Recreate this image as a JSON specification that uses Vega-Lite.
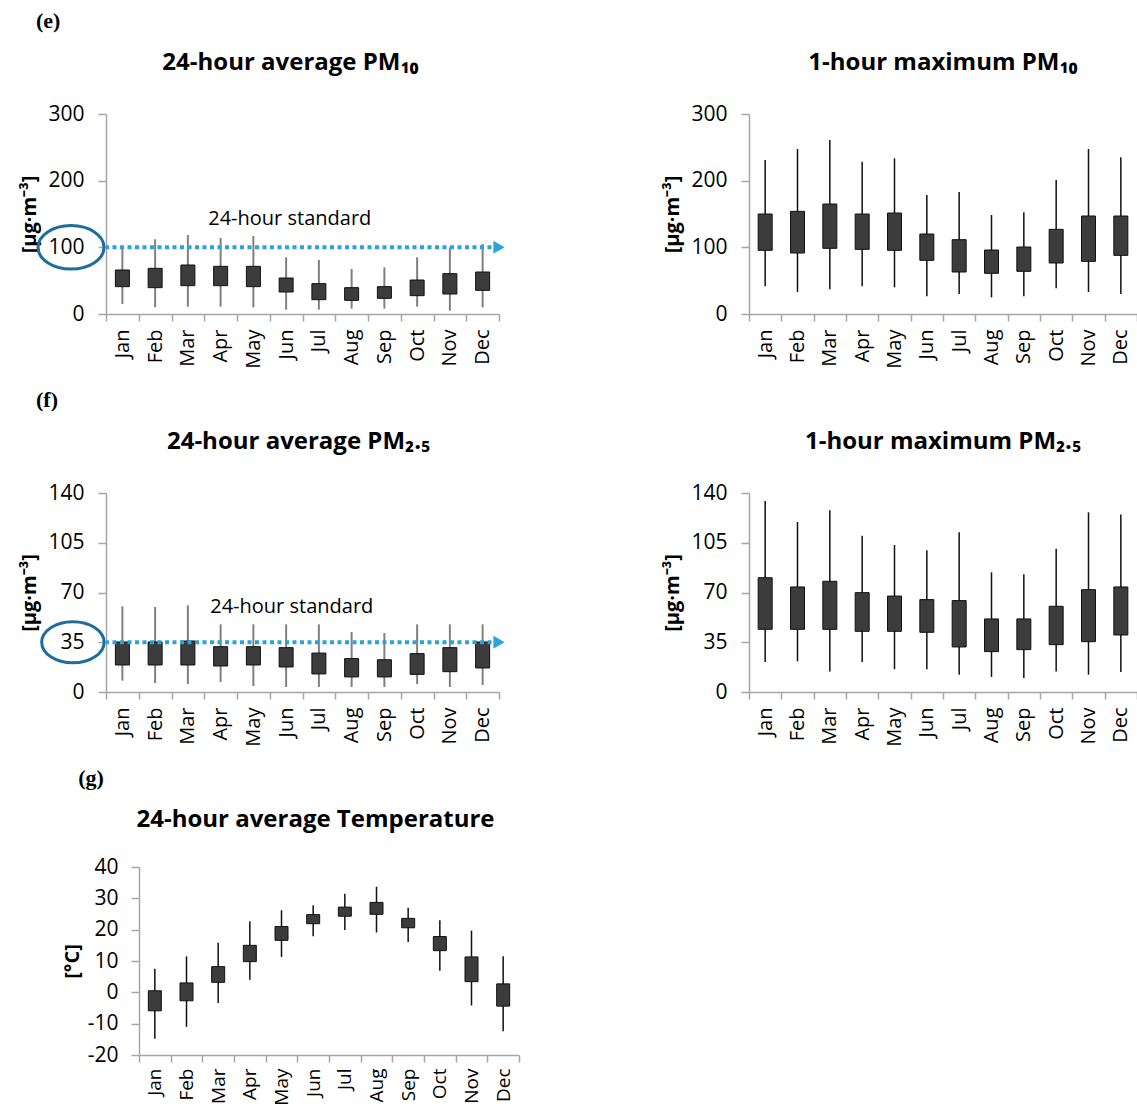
{
  "$schema": "https://vega.github.io/schema/vega-lite/v6.json",
  "padding": {"left": 19, "top": 10, "right": 0, "bottom": 0},
  "background": "white",
  "config": {
    "view": {"stroke": null},
    "font": "Open Sans",
    "axis": {"labelFont": "Open Sans", "labelFontSize": 20, "labelColor": "#000000", "domainColor": "#A6A6A6", "domainWidth": 1.5, "tickColor": "#A6A6A6", "tickWidth": 1.5, "grid": false, "titleFont": "Open Sans", "titleFontSize": 20, "titleFontWeight": "bold", "titleColor": "#000000", "labelOverlap": false},
    "axisY": {"labelFontSize": 21},
    "title": {"font": "Open Sans", "fontSize": 24, "fontWeight": "bold", "color": "#000000"}
  },
  "datasets": {
    "pm10_24h": [
      {"month": "Jan", "min": 15, "q1": 41, "q3": 66, "max": 100},
      {"month": "Feb", "min": 10, "q1": 39.5, "q3": 68.5, "max": 112},
      {"month": "Mar", "min": 11, "q1": 42.5, "q3": 73.5, "max": 118.5},
      {"month": "Apr", "min": 11, "q1": 42.5, "q3": 71.5, "max": 114},
      {"month": "May", "min": 10, "q1": 41, "q3": 71.5, "max": 117},
      {"month": "Jun", "min": 6.5, "q1": 33, "q3": 54, "max": 85},
      {"month": "Jul", "min": 6.5, "q1": 21.5, "q3": 45.5, "max": 81},
      {"month": "Aug", "min": 8, "q1": 20.5, "q3": 39.5, "max": 67.5},
      {"month": "Sep", "min": 8, "q1": 23.5, "q3": 41, "max": 70},
      {"month": "Oct", "min": 11, "q1": 27.5, "q3": 51, "max": 85},
      {"month": "Nov", "min": 5, "q1": 30, "q3": 60.5, "max": 100},
      {"month": "Dec", "min": 10, "q1": 35.5, "q3": 63, "max": 105}
    ],
    "pm10_1h": [
      {"month": "Jan", "min": 41.5, "q1": 95.5, "q3": 150, "max": 231},
      {"month": "Feb", "min": 33, "q1": 91.5, "q3": 154, "max": 247.5},
      {"month": "Mar", "min": 37, "q1": 98.5, "q3": 165, "max": 261},
      {"month": "Apr", "min": 41.5, "q1": 97, "q3": 150, "max": 228.5},
      {"month": "May", "min": 40, "q1": 95.5, "q3": 151.5, "max": 233.5},
      {"month": "Jun", "min": 26.5, "q1": 80.5, "q3": 120, "max": 178.5},
      {"month": "Jul", "min": 30, "q1": 63, "q3": 111.5, "max": 183},
      {"month": "Aug", "min": 25, "q1": 61, "q3": 96, "max": 148.5},
      {"month": "Sep", "min": 26.5, "q1": 64, "q3": 100.5, "max": 152.5},
      {"month": "Oct", "min": 38.5, "q1": 76.5, "q3": 127, "max": 201},
      {"month": "Nov", "min": 33, "q1": 79, "q3": 147, "max": 247.5},
      {"month": "Dec", "min": 30, "q1": 88, "q3": 147, "max": 235}
    ],
    "pm25_24h": [
      {"month": "Jan", "min": 8, "q1": 19, "q3": 35.2, "max": 60.3},
      {"month": "Feb", "min": 6.3, "q1": 19, "q3": 35.2, "max": 59.8},
      {"month": "Mar", "min": 5.6, "q1": 19, "q3": 35.9, "max": 61},
      {"month": "Apr", "min": 7, "q1": 18.3, "q3": 31.9, "max": 47.6},
      {"month": "May", "min": 4.2, "q1": 19, "q3": 31.9, "max": 47.6},
      {"month": "Jun", "min": 3.5, "q1": 17.6, "q3": 31.2, "max": 47.6},
      {"month": "Jul", "min": 3.5, "q1": 12.7, "q3": 27.4, "max": 47.6},
      {"month": "Aug", "min": 3.5, "q1": 10.6, "q3": 23.5, "max": 42.2},
      {"month": "Sep", "min": 3.5, "q1": 10.6, "q3": 22.7, "max": 41.5},
      {"month": "Oct", "min": 5.6, "q1": 12.4, "q3": 27, "max": 47.6},
      {"month": "Nov", "min": 3.5, "q1": 14.3, "q3": 31.2, "max": 47.6},
      {"month": "Dec", "min": 4.9, "q1": 16.9, "q3": 35.2, "max": 47.6}
    ],
    "pm25_1h": [
      {"month": "Jan", "min": 21.1, "q1": 44.1, "q3": 80.4, "max": 134.4},
      {"month": "Feb", "min": 21.6, "q1": 44.1, "q3": 73.9, "max": 119.6},
      {"month": "Mar", "min": 14.5, "q1": 44.1, "q3": 77.9, "max": 127.8},
      {"month": "Apr", "min": 21.1, "q1": 42.7, "q3": 69.9, "max": 110},
      {"month": "May", "min": 16, "q1": 42.7, "q3": 67.5, "max": 103.4},
      {"month": "Jun", "min": 16, "q1": 42, "q3": 65, "max": 99.7},
      {"month": "Jul", "min": 12.2, "q1": 31.7, "q3": 64.3, "max": 112.3},
      {"month": "Aug", "min": 10.6, "q1": 28.4, "q3": 51.4, "max": 84.2},
      {"month": "Sep", "min": 9.9, "q1": 29.8, "q3": 51.4, "max": 82.8},
      {"month": "Oct", "min": 14.5, "q1": 33.3, "q3": 60.3, "max": 100.8},
      {"month": "Nov", "min": 12.2, "q1": 35.4, "q3": 72, "max": 126.4},
      {"month": "Dec", "min": 14.1, "q1": 40.1, "q3": 73.9, "max": 124.8}
    ],
    "temp": [
      {"month": "Jan", "min": -14.8, "q1": -5.9, "q3": 0.5, "max": 7.5},
      {"month": "Feb", "min": -11, "q1": -2.7, "q3": 3, "max": 11.5},
      {"month": "Mar", "min": -3.4, "q1": 3.2, "q3": 8.2, "max": 15.8},
      {"month": "Apr", "min": 4, "q1": 9.8, "q3": 15, "max": 22.7},
      {"month": "May", "min": 11.3, "q1": 16.6, "q3": 21, "max": 26.2},
      {"month": "Jun", "min": 17.9, "q1": 21.9, "q3": 24.8, "max": 27.8},
      {"month": "Jul", "min": 19.9, "q1": 24.3, "q3": 27.2, "max": 31.5},
      {"month": "Aug", "min": 19.1, "q1": 24.9, "q3": 28.7, "max": 33.7},
      {"month": "Sep", "min": 16.1, "q1": 20.6, "q3": 23.6, "max": 27},
      {"month": "Oct", "min": 6.9, "q1": 13.3, "q3": 17.8, "max": 23},
      {"month": "Nov", "min": -4.2, "q1": 3.4, "q3": 11.3, "max": 19.7},
      {"month": "Dec", "min": -12.4, "q1": -4.4, "q3": 2.7, "max": 11.5}
    ]
  },
  "vconcat": [
    {
      "title": {"text": "(e)", "anchor": "start", "font": "Liberation Serif", "fontSize": 22, "fontWeight": "bold", "dx": 16, "offset": 18},
      "spacing": 157,
      "hconcat": [
        {
          "title": {"text": "24-hour average PM₁₀", "frame": "group", "dx": -12, "offset": 28},
          "width": 393, "height": 200,
          "layer": [
            {
              "data": {"name": "pm10_24h"},
              "mark": {"type": "rule", "color": "#808080", "strokeWidth": 2},
              "encoding": {
                "x": {"field": "month", "type": "nominal", "sort": ["Jan","Feb","Mar","Apr","May","Jun","Jul","Aug","Sep","Oct","Nov","Dec"], "scale": {"paddingInner": 0, "paddingOuter": 0}, "axis": {"title": null, "labelAngle": -90, "tickBand": "extent", "tickSize": 7, "labelPadding": 8}},
                "y": {"field": "min", "type": "quantitative", "scale": {"domain": [0, 300], "nice": false}, "axis": {"values": [0, 100, 200, 300], "tickCount": 4, "title": "[µg·m⁻³]", "tickSize": 8, "labelPadding": 14, "titlePadding": 8}},
                "y2": {"field": "max"}
              }
            },
            {
              "data": {"name": "pm10_24h"},
              "mark": {"type": "bar", "size": 14, "color": "#3C3C3C", "stroke": "#111111", "strokeWidth": 1},
              "encoding": {
                "x": {"field": "month", "type": "nominal", "sort": ["Jan","Feb","Mar","Apr","May","Jun","Jul","Aug","Sep","Oct","Nov","Dec"]},
                "y": {"field": "q1", "type": "quantitative"},
                "y2": {"field": "q3"}
              }
            },
            {
              "data": {"values": [{"standard": 100}]},
              "mark": {"type": "rule", "color": "#2AA2DC", "strokeWidth": 4, "strokeDash": [4, 3.5]},
              "encoding": {"y": {"field": "standard", "type": "quantitative"}}
            },
            {
              "data": {"values": [{"month": "Dec", "standard": 100}]},
              "mark": {"type": "point", "shape": "triangle-right", "filled": true, "color": "#2AA2DC", "size": 170, "opacity": 1},
              "encoding": {
                "x": {"field": "month", "type": "nominal", "sort": ["Jan","Feb","Mar","Apr","May","Jun","Jul","Aug","Sep","Oct","Nov","Dec"], "bandPosition": 1},
                "y": {"field": "standard", "type": "quantitative"}
              }
            },
            {
              "data": {"values": [{"month": "Jan", "standard": 100}]},
              "mark": {"type": "point", "shape": "M -2.06 0 A 1 0.66 0 1 0 -0.06 0 A 1 0.66 0 1 0 -2.06 0 Z", "size": 4356, "filled": false, "stroke": "#1F6E9A", "strokeWidth": 3, "opacity": 1},
              "encoding": {
                "x": {"field": "month", "type": "nominal", "sort": ["Jan","Feb","Mar","Apr","May","Jun","Jul","Aug","Sep","Oct","Nov","Dec"], "bandPosition": 0},
                "y": {"field": "standard", "type": "quantitative"}
              }
            },
            {
              "data": {"values": [{"month": "Apr", "label": "24-hour standard"}]},
              "mark": {"type": "text", "align": "left", "baseline": "middle", "fontSize": 20, "dx": 4, "color": "#000000"},
              "encoding": {
                "x": {"field": "month", "type": "nominal", "sort": ["Jan","Feb","Mar","Apr","May","Jun","Jul","Aug","Sep","Oct","Nov","Dec"], "bandPosition": 0},
                "y": {"datum": 142},
                "text": {"field": "label"}
              }
            }
          ]
        },
        {
          "title": {"text": "1-hour maximum PM₁₀", "frame": "group", "offset": 28},
          "width": 388, "height": 200,
          "data": {"name": "pm10_1h"},
          "encoding": {
            "x": {"field": "month", "type": "nominal", "sort": ["Jan","Feb","Mar","Apr","May","Jun","Jul","Aug","Sep","Oct","Nov","Dec"], "scale": {"paddingInner": 0, "paddingOuter": 0}, "axis": {"title": null, "labelAngle": -90, "tickBand": "extent", "tickSize": 7, "labelPadding": 8}}
          },
          "layer": [
            {
              "mark": {"type": "rule", "color": "#111111", "strokeWidth": 1.5},
              "encoding": {
                "y": {"field": "min", "type": "quantitative", "scale": {"domain": [0, 300], "nice": false}, "axis": {"values": [0, 100, 200, 300], "tickCount": 4, "title": "[µg·m⁻³]", "tickSize": 8, "labelPadding": 14, "titlePadding": 8}},
                "y2": {"field": "max"}
              }
            },
            {
              "mark": {"type": "bar", "size": 14, "color": "#3C3C3C", "stroke": "#111111", "strokeWidth": 1},
              "encoding": {"y": {"field": "q1", "type": "quantitative"}, "y2": {"field": "q3"}}
            }
          ]
        }
      ]
    },
    {
      "title": {"text": "(f)", "anchor": "start", "font": "Liberation Serif", "fontSize": 22, "fontWeight": "bold", "dx": 16, "offset": 18},
      "spacing": 157,
      "hconcat": [
        {
          "title": {"text": "24-hour average PM₂.₅", "frame": "group", "dx": -4, "offset": 28},
          "width": 393, "height": 199,
          "layer": [
            {
              "data": {"name": "pm25_24h"},
              "mark": {"type": "rule", "color": "#808080", "strokeWidth": 2},
              "encoding": {
                "x": {"field": "month", "type": "nominal", "sort": ["Jan","Feb","Mar","Apr","May","Jun","Jul","Aug","Sep","Oct","Nov","Dec"], "scale": {"paddingInner": 0, "paddingOuter": 0}, "axis": {"title": null, "labelAngle": -90, "tickBand": "extent", "tickSize": 7, "labelPadding": 8}},
                "y": {"field": "min", "type": "quantitative", "scale": {"domain": [0, 140], "nice": false}, "axis": {"values": [0, 35, 70, 105, 140], "tickCount": 5, "title": "[µg·m⁻³]", "tickSize": 8, "labelPadding": 14, "titlePadding": 8}},
                "y2": {"field": "max"}
              }
            },
            {
              "data": {"name": "pm25_24h"},
              "mark": {"type": "bar", "size": 14, "color": "#3C3C3C", "stroke": "#111111", "strokeWidth": 1},
              "encoding": {
                "x": {"field": "month", "type": "nominal", "sort": ["Jan","Feb","Mar","Apr","May","Jun","Jul","Aug","Sep","Oct","Nov","Dec"]},
                "y": {"field": "q1", "type": "quantitative"},
                "y2": {"field": "q3"}
              }
            },
            {
              "data": {"values": [{"standard": 35}]},
              "mark": {"type": "rule", "color": "#2AA2DC", "strokeWidth": 4, "strokeDash": [4, 3.5]},
              "encoding": {"y": {"field": "standard", "type": "quantitative"}}
            },
            {
              "data": {"values": [{"month": "Dec", "standard": 35}]},
              "mark": {"type": "point", "shape": "triangle-right", "filled": true, "color": "#2AA2DC", "size": 170, "opacity": 1},
              "encoding": {
                "x": {"field": "month", "type": "nominal", "sort": ["Jan","Feb","Mar","Apr","May","Jun","Jul","Aug","Sep","Oct","Nov","Dec"], "bandPosition": 1},
                "y": {"field": "standard", "type": "quantitative"}
              }
            },
            {
              "data": {"values": [{"month": "Jan", "standard": 35}]},
              "mark": {"type": "point", "shape": "M -2.06 0 A 1 0.66 0 1 0 -0.06 0 A 1 0.66 0 1 0 -2.06 0 Z", "size": 3900, "filled": false, "stroke": "#1F6E9A", "strokeWidth": 3, "opacity": 1},
              "encoding": {
                "x": {"field": "month", "type": "nominal", "sort": ["Jan","Feb","Mar","Apr","May","Jun","Jul","Aug","Sep","Oct","Nov","Dec"], "bandPosition": 0},
                "y": {"field": "standard", "type": "quantitative"}
              }
            },
            {
              "data": {"values": [{"month": "Apr", "label": "24-hour standard"}]},
              "mark": {"type": "text", "align": "left", "baseline": "middle", "fontSize": 20, "dx": 6, "color": "#000000"},
              "encoding": {
                "x": {"field": "month", "type": "nominal", "sort": ["Jan","Feb","Mar","Apr","May","Jun","Jul","Aug","Sep","Oct","Nov","Dec"], "bandPosition": 0},
                "y": {"datum": 60},
                "text": {"field": "label"}
              }
            }
          ]
        },
        {
          "title": {"text": "1-hour maximum PM₂.₅", "frame": "group", "offset": 28},
          "width": 388, "height": 199,
          "data": {"name": "pm25_1h"},
          "encoding": {
            "x": {"field": "month", "type": "nominal", "sort": ["Jan","Feb","Mar","Apr","May","Jun","Jul","Aug","Sep","Oct","Nov","Dec"], "scale": {"paddingInner": 0, "paddingOuter": 0}, "axis": {"title": null, "labelAngle": -90, "tickBand": "extent", "tickSize": 7, "labelPadding": 8}}
          },
          "layer": [
            {
              "mark": {"type": "rule", "color": "#111111", "strokeWidth": 1.5},
              "encoding": {
                "y": {"field": "min", "type": "quantitative", "scale": {"domain": [0, 140], "nice": false}, "axis": {"values": [0, 35, 70, 105, 140], "tickCount": 5, "title": "[µg·m⁻³]", "tickSize": 8, "labelPadding": 14, "titlePadding": 8}},
                "y2": {"field": "max"}
              }
            },
            {
              "mark": {"type": "bar", "size": 14, "color": "#3C3C3C", "stroke": "#111111", "strokeWidth": 1},
              "encoding": {"y": {"field": "q1", "type": "quantitative"}, "y2": {"field": "q3"}}
            }
          ]
        }
      ]
    },
    {
      "title": {"text": "(g)", "anchor": "start", "font": "Liberation Serif", "fontSize": 22, "fontWeight": "bold", "dx": 16, "offset": 18},
      "hconcat": [
        {
          "title": {"text": "24-hour average Temperature", "frame": "group", "dx": 3, "offset": 24},
          "width": 413, "height": 188,
          "data": {"name": "temp"},
          "encoding": {
            "x": {"field": "month", "type": "nominal", "sort": ["Jan","Feb","Mar","Apr","May","Jun","Jul","Aug","Sep","Oct","Nov","Dec"], "scale": {"paddingInner": 0, "paddingOuter": 0, "range": [33, 413]}, "axis": {"title": null, "labelAngle": -90, "tickBand": "extent", "tickSize": 7, "labelPadding": 6, "labelFontSize": 19}}
          },
          "layer": [
            {
              "mark": {"type": "rule", "color": "#111111", "strokeWidth": 1.5},
              "encoding": {
                "y": {"field": "min", "type": "quantitative", "scale": {"domain": [-20, 40], "nice": false}, "axis": {"values": [-20, -10, 0, 10, 20, 30, 40], "tickCount": 7, "labelOverlap": false, "labelExpr": "datum.value + ''", "title": "[°C]", "tickSize": 8, "labelPadding": 13, "titlePadding": 5, "offset": -33}},
                "y2": {"field": "max"}
              }
            },
            {
              "mark": {"type": "bar", "size": 13, "color": "#3C3C3C", "stroke": "#111111", "strokeWidth": 1},
              "encoding": {"y": {"field": "q1", "type": "quantitative"}, "y2": {"field": "q3"}}
            }
          ]
        }
      ]
    }
  ],
  "spacing": 20
}
